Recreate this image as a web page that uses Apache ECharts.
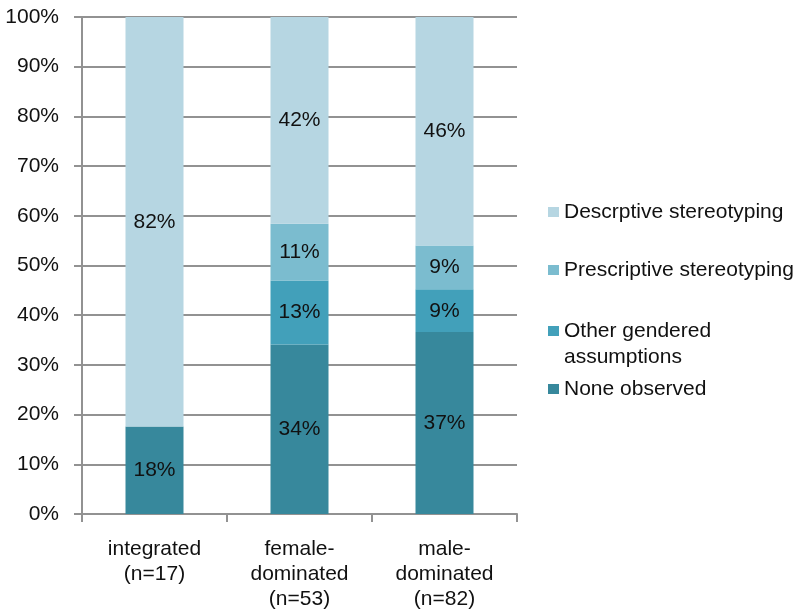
<!DOCTYPE html>
<html>
<head>
<meta charset="utf-8">
<script src="https://cdn.jsdelivr.net/npm/echarts@6/dist/echarts.min.js"></script>
<style>
  html, body { margin: 0; padding: 0; background: #fff; }
  #chart { width: 803px; height: 609px; }
</style>
</head>
<body>
<div id="chart"></div>
<script>
const categories = ['integrated\n(n=17)', 'female-\ndominated\n(n=53)', 'male-\ndominated\n(n=82)']
const noneObserved = [17.6, 34.1, 36.6]
const otherGendered = [0, 12.9, 8.6]
const prescriptive = [0, 11.4, 8.8]
const descriptive = [82.4, 41.6, 46.0]
const yTicks = [0, 10, 20, 30, 40, 50, 60, 70, 80, 90, 100]

const colors = {
  none: '#37889C',
  other: '#42A0BA',
  presc: '#7BBCCF',
  descr: '#B6D6E2',
}
const font = 'Liberation Sans, Arial, sans-serif'
const fontSize = 21
const gray = '#929292'

const chart = echarts.init(document.getElementById('chart'))

const barLabel = {
  show: true,
  position: 'inside',
  color: '#111',
  fontFamily: font,
  fontSize: fontSize,
  formatter: (p) => (p.value > 0 ? Math.round(p.value) + '%' : ''),
}

function mkSeries(name, data, color) {
  return {
    name: name,
    type: 'bar',
    stack: 'all',
    barWidth: '40%',
    data: data,
    itemStyle: { color: color },
    label: barLabel,
    emphasis: { disabled: true },
  }
}

function mkLegend(name, top, extra) {
  return Object.assign(
    {
      data: [name],
      left: 548,
      top: top,
      padding: 0,
      orient: 'vertical',
      icon: 'rect',
      itemWidth: 11,
      itemHeight: 10,
      itemGap: 0,
      selectedMode: false,
      textStyle: {
        color: '#111',
        fontFamily: font,
        fontSize: fontSize,
        lineHeight: 26,
      },
    },
    extra || {}
  )
}

const option = {
  animation: false,
  grid: { left: 82, right: 286, top: 17, bottom: 95, outerBoundsMode: 'none' },
  legend: [
    mkLegend('Descrptive stereotyping', 199),
    mkLegend('Prescriptive stereotyping', 257),
    // blank first line so the marker sits beside the first text line
    mkLegend('Other gendered\nassumptions', 292, {
      formatter: (name) => '\u00a0\n' + name,
    }),
    mkLegend('None observed', 376),
  ],
  xAxis: {
    type: 'category',
    data: categories,
    axisLine: { lineStyle: { color: gray, width: 2 } },
    axisTick: { show: true, length: 8, lineStyle: { color: gray, width: 2 } },
    axisLabel: {
      color: '#111',
      fontFamily: font,
      fontSize: fontSize,
      lineHeight: 25,
      margin: 23,
      interval: 0,
    },
  },
  yAxis: {
    type: 'value',
    min: yTicks[0],
    max: yTicks[yTicks.length - 1],
    interval: 10,
    axisLine: { show: true, lineStyle: { color: gray, width: 2 } },
    axisTick: { show: true, length: 8, lineStyle: { color: gray, width: 2 } },
    splitLine: { lineStyle: { color: gray, width: 2 } },
    axisLabel: {
      color: '#111',
      fontFamily: font,
      fontSize: fontSize,
      margin: 23,
      formatter: '{value}%',
    },
  },
  series: [
    mkSeries('None observed', noneObserved, colors.none),
    mkSeries('Other gendered\nassumptions', otherGendered, colors.other),
    mkSeries('Prescriptive stereotyping', prescriptive, colors.presc),
    mkSeries('Descrptive stereotyping', descriptive, colors.descr),
  ],
}

chart.setOption(option)
</script>
</body>
</html>
